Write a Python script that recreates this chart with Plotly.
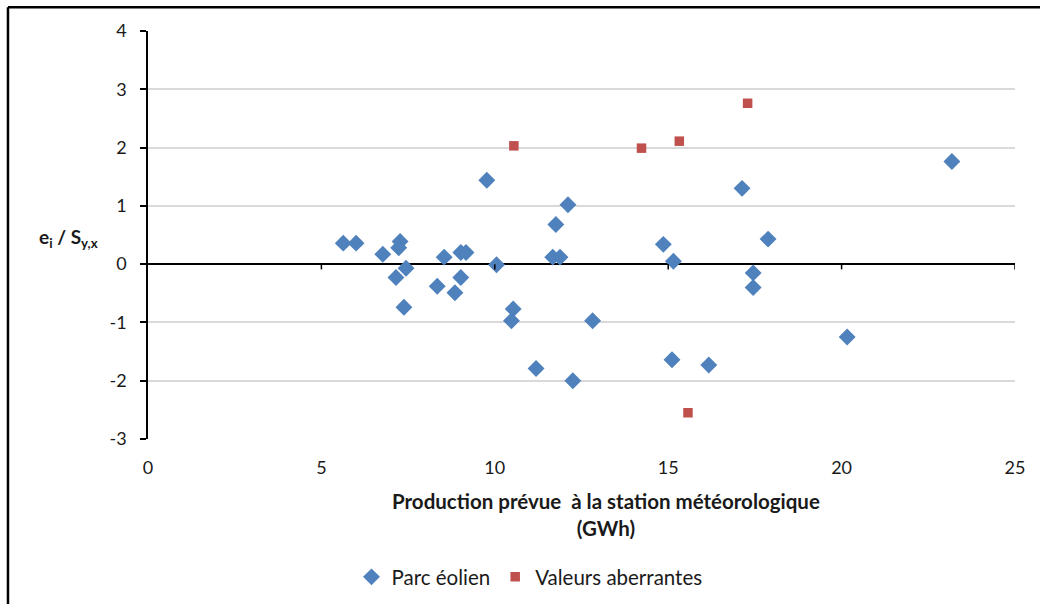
import plotly.graph_objects as go

# Parc éolien (blue diamonds)
parc_x = [5.63, 6.0, 6.77, 7.27, 7.23, 7.44, 7.15, 7.38, 8.54, 8.34, 8.85, 9.02, 9.02, 9.17,
          9.77, 10.05, 10.53, 10.48, 11.19, 12.25, 11.67, 11.88, 11.76, 12.11, 12.82,
          14.86, 15.15, 15.11, 16.17, 17.13, 17.45, 17.45, 17.88, 20.16, 23.18]
parc_y = [0.36, 0.36, 0.17, 0.39, 0.28, -0.07, -0.23, -0.74, 0.12, -0.38, -0.49, -0.23, 0.20, 0.20,
          1.44, -0.01, -0.77, -0.97, -1.79, -2.0, 0.12, 0.12, 0.68, 1.02, -0.97,
          0.34, 0.05, -1.64, -1.73, 1.30, -0.15, -0.40, 0.43, -1.25, 1.76]

# Valeurs aberrantes (red squares)
aber_x = [10.55, 14.23, 15.32, 17.29, 15.57]
aber_y = [2.03, 1.99, 2.11, 2.76, -2.55]

x_ticks = [0, 5, 10, 15, 20, 25]
y_ticks = [-3, -2, -1, 0, 1, 2, 3, 4]

FONT = "Lato"
TXT = "#1a1a1a"

fig = go.Figure()
fig.add_trace(go.Scatter(x=parc_x, y=parc_y, mode="markers", name="Parc éolien",
                         marker=dict(symbol="diamond", size=13, color="#4F81BD")))
fig.add_trace(go.Scatter(x=aber_x, y=aber_y, mode="markers", name="Valeurs aberrantes",
                         marker=dict(symbol="square", size=9.5, color="#C0504D")))

fig.update_layout(
    width=1040, height=604,
    margin=dict(l=148, r=25, t=31, b=165),
    paper_bgcolor="white", plot_bgcolor="white",
    font=dict(family=FONT, size=18, color=TXT),
    showlegend=True,
    legend=dict(orientation="h", x=0.44, y=1 - 577 / 604, xref="paper", yref="container",
                xanchor="center", yanchor="middle",
                font=dict(family=FONT, size=20.5, color=TXT), itemsizing="trace",
                traceorder="normal", tracegroupgap=0, itemwidth=30),
    xaxis=dict(range=[0, 25], tickvals=x_ticks, ticktext=[str(v) for v in x_ticks],
               showgrid=False, zeroline=False, showline=False,
               ticks="outside", ticklen=12, tickcolor="rgba(0,0,0,0)",
               tickfont=dict(family=FONT, size=18, color=TXT)),
    yaxis=dict(range=[-3, 4], tickvals=y_ticks, ticktext=[str(v) for v in y_ticks],
               showgrid=True, gridcolor="#d9d9d9", gridwidth=1.5,
               zeroline=True, zerolinecolor="#000000", zerolinewidth=1.5,
               showline=True, linecolor="#000000", linewidth=1.5,
               ticks="outside", ticklen=6, tickcolor="#000000", tickwidth=1.5,
               ticklabelstandoff=10,
               tickfont=dict(family=FONT, size=18, color=TXT)),
)

# Tick marks on the horizontal axis crossing at y = 0
for v in x_ticks[1:]:
    fig.add_shape(type="line", xref="x", yref="y", x0=v, x1=v, y0=0, y1=-0.09,
                  line=dict(color="#000000", width=1.5))

# Outer chart border (left and top visible)
fig.add_shape(type="line", xref="paper", yref="paper", x0=-0.1615, x1=-0.1615, y0=-0.5, y1=1.0585,
              line=dict(color="#000000", width=2.5))
fig.add_shape(type="line", xref="paper", yref="paper", x0=-0.1615, x1=1.2, y0=1.0585, y1=1.0585,
              line=dict(color="#000000", width=2.5))

# Axis titles
fig.add_annotation(xref="paper", yref="paper", x=(606 - 148) / 867, y=(439 - 487) / 408,
                   text="<b>Production prévue  à la station météorologique</b><br><b>(GWh)</b>",
                   showarrow=False, xanchor="center", yanchor="top",
                   font=dict(family=FONT, size=20.5, color=TXT))
fig.add_annotation(xref="paper", yref="paper", x=(68 - 148) / 867, y=(439 - 238) / 408,
                   text="<b>e<sub>i</sub> / S<sub>y,x</sub></b>",
                   showarrow=False, xanchor="center", yanchor="middle",
                   font=dict(family=FONT, size=19, color=TXT))

fig.write_html("out.html")
